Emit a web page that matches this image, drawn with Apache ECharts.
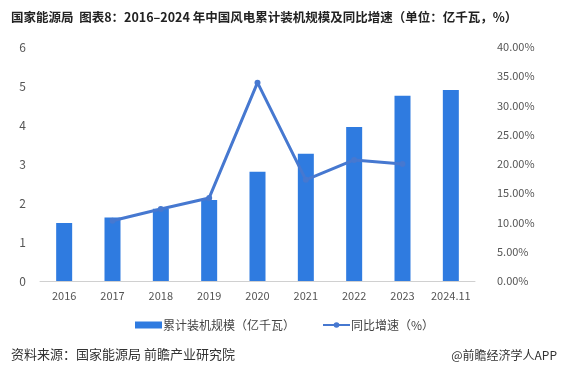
<!DOCTYPE html>
<html><head><meta charset="utf-8">
<script src="https://cdn.jsdelivr.net/npm/echarts@6/dist/echarts.min.js"></script>
<style>html,body{margin:0;padding:0;background:#fff}#c{width:568px;height:366px}</style>
</head><body><div id="c"></div>
<script>
const categories = ['2016','2017','2018','2019','2020','2021','2022','2023','2024.11'];
const capacity = [1.49, 1.63, 1.85, 2.08, 2.80, 3.26, 3.95, 4.75, 4.90];
const growth = [null, 10.3, 12.3, 14.2, 33.9, 17.3, 20.7, 20.0, null];
const leftTicks = [0,1,2,3,4,5,6];
const rightTicks = ['0.00%','5.00%','10.00%','15.00%','20.00%','25.00%','30.00%','35.00%','40.00%'];
const titleText = '国家能源局  图表8：2016–2024 年中国风电累计装机规模及同比增速（单位：亿千瓦，%）';
const sourceText = '资料来源：国家能源局 前瞻产业研究院';
const brandText = '@前瞻经济学人APP';

const chart = echarts.init(document.getElementById('c'), null, {renderer:'canvas'});
const font = '"Microsoft YaHei","Noto Sans CJK SC",sans-serif';
chart.setOption({
  animation:false,
  textStyle:{fontFamily:font},
  title:[
    {text:titleText,left:6,top:6,textStyle:{fontSize:12.5,fontWeight:'bold',color:'#222',fontFamily:'"Noto Sans CJK SC",serif'}},
    {text:sourceText,left:6,top:343,textStyle:{fontSize:13,fontWeight:'normal',color:'#333',fontFamily:font}},
    {text:brandText,right:6,top:344,textStyle:{fontSize:12,fontWeight:'normal',color:'#333',fontFamily:font}}
  ],
  legend:{
    top:314,left:130,itemGap:27,itemWidth:27,itemHeight:7,
    textStyle:{fontSize:12,color:'#444',padding:[0,0,0,-4]},
    data:[{name:'累计装机规模（亿千瓦）',icon:'rect'},{name:'同比增速（%）'}]
  },
  grid:{left:40,right:93,top:47,bottom:85},
  xAxis:{type:'category',data:categories,
    axisLine:{lineStyle:{color:'#d0d0d0'}},axisTick:{show:false},
    axisLabel:{color:'#555',fontSize:11,margin:9,interval:0}},
  yAxis:[
    {type:'value',min:0,max:6,interval:1,splitLine:{show:false},axisLine:{show:false},axisTick:{show:false},
     axisLabel:{color:'#555',fontSize:12,margin:14,formatter:v=>leftTicks.includes(v)?String(v):''}},
    {type:'value',min:0,max:40,interval:5,splitLine:{show:false},axisLine:{show:false},axisTick:{show:false},
     axisLabel:{color:'#555',fontSize:11,margin:22,formatter:v=>rightTicks[Math.round(v/5)]}}
  ],
  series:[
    {name:'累计装机规模（亿千瓦）',type:'bar',data:capacity,barWidth:16,itemStyle:{color:'#2F7BE0'}},
    {name:'同比增速（%）',type:'line',yAxisIndex:1,data:growth,symbol:'circle',symbolSize:6,
     lineStyle:{color:'#4678D0',width:3},itemStyle:{color:'#4678D0'}}
  ]
});
</script></body></html>
